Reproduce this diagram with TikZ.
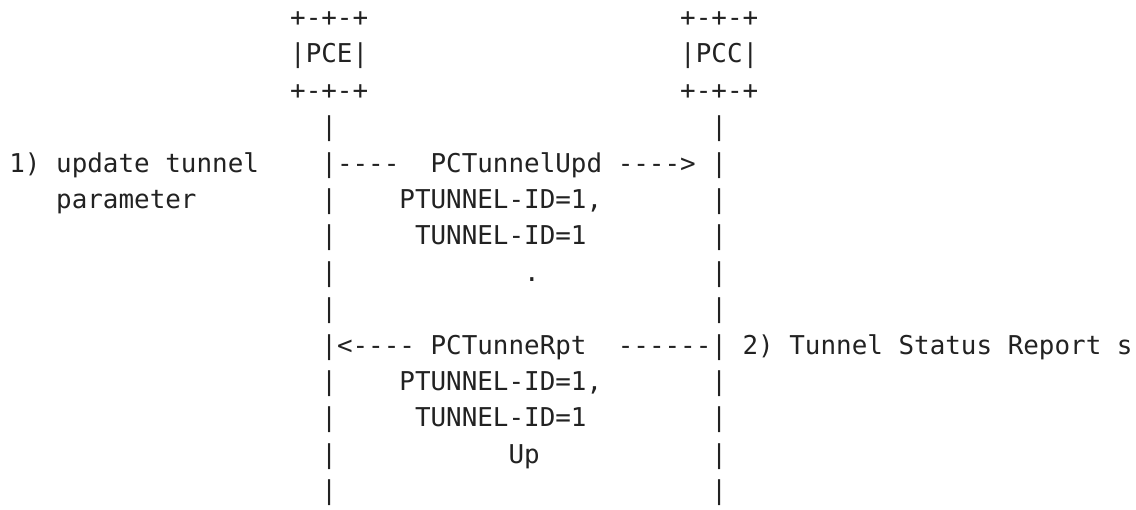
\documentclass[tikz,border=0pt]{standalone}
\usepackage{fontspec}
\setmonofont{DejaVu Sans Mono}
\definecolor{ink}{HTML}{222222}

\begin{document}
\begin{tikzpicture}[x=15.6pt,y=-36.4pt,
    chars/.style={anchor=base west,inner sep=0pt,text=ink,
      font=\ttfamily\fontsize{25.91pt}{36.4pt}\selectfont}]
  \useasboundingbox (-9.2pt,-9.8pt) rectangle (1126.8pt,-519.8pt);

  \node[chars] (pcetop) at (18,1) {+-+-+};
  \node[chars] (pce)    at (18,2) {|PCE|};
  \node[chars] (pcebot) at (18,3) {+-+-+};
  \node[chars] (pcctop) at (43,1) {+-+-+};
  \node[chars] (pcc)    at (43,2) {|PCC|};
  \node[chars] (pccbot) at (43,3) {+-+-+};

  \foreach \r in {4,...,14} {
    \node[chars] (pcelife\r) at (20,\r) {|};
    \node[chars] (pcclife\r) at (45,\r) {|};
  }

  \node[chars] (step1)   at (0,5)  {1) update tunnel};
  \node[chars] (step1b)  at (3,6)  {parameter};
  \node[chars] (updtail) at (21,5) {----};
  \node[chars] (upd)     at (27,5) {PCTunnelUpd ---->};
  \node[chars] (updptid) at (25,6) {PTUNNEL-ID=1,};
  \node[chars] (updtid)  at (26,7) {TUNNEL-ID=1};
  \node[chars] (upddot)  at (33,8) {.};

  \node[chars] (rpthead) at (21,10) {<----};
  \node[chars] (rpt)     at (27,10) {PCTunneRpt};
  \node[chars] (rpttail) at (39,10) {------};
  \node[chars] (step2)   at (47,10) {2) Tunnel Status Report s};
  \node[chars] (rptptid) at (25,11) {PTUNNEL-ID=1,};
  \node[chars] (rpttid)  at (26,12) {TUNNEL-ID=1};
  \node[chars] (rptup)   at (32,13) {Up};
\end{tikzpicture}
\end{document}
